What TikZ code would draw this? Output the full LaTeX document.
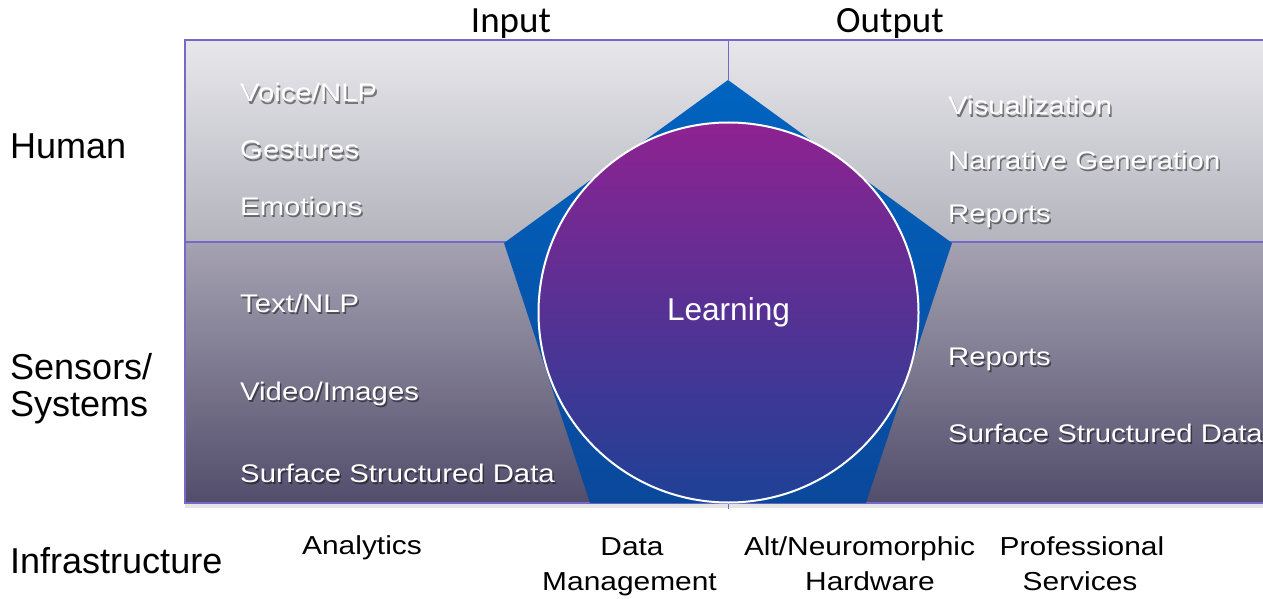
\documentclass[tikz,border=0pt]{standalone}
\usepackage{fontspec}
\setmainfont{Liberation Sans}
\newfontfamily\calib{Carlito}
\newfontfamily\widefont[FakeStretch=1.15]{Liberation Sans}
\definecolor{pline}{RGB}{118,104,200}
\definecolor{ptop}{RGB}{231,231,235}
\definecolor{pmid}{RGB}{180,180,190}
\definecolor{pmidb}{RGB}{165,162,178}
\definecolor{pbot}{RGB}{82,77,107}
\definecolor{penttop}{RGB}{0,100,192}
\definecolor{pentbot}{RGB}{10,72,155}
\definecolor{ctop}{RGB}{142,34,146}
\definecolor{cmid}{RGB}{85,50,150}
\definecolor{cbot}{RGB}{30,65,150}
\tikzset{
  paneltxt/.style={font=\widefont\fontsize{25.5}{30}\selectfont, text=white, anchor=base west, inner sep=0pt},
  panelshd/.style={paneltxt, text=black, text opacity=0.45},
  sidelab/.style={font=\fontsize{36}{43}\selectfont, anchor=base west, inner sep=0pt},
  headlab/.style={font=\calib\fontsize{37}{44}\selectfont, anchor=base, inner sep=0pt},
  infralab/.style={font=\widefont\fontsize{26}{31}\selectfont, anchor=base, inner sep=0pt},
  border/.style={draw=pline, line width=1.3pt},
}
\newcommand\ptxt[4]{%
  \node[panelshd] (#1s) at (#2+1.5,#3+2.5) {#4};
  \node[paneltxt] (#1) at (#2,#3) {#4};}
\begin{document}
\begin{tikzpicture}[x=1pt,y=-1pt]
\useasboundingbox (0,0) rectangle (1263,599);
% panels
\shade[top color=ptop, bottom color=pmid] (185,40) rectangle (1263,242);
\shade[top color=pmidb, bottom color=pbot] (185,242) rectangle (1263,503);
\fill[black, opacity=0.10] (185,504) rectangle (1263,508);
\coordinate (tl) at (185,40);
\coordinate (tr) at (1263,40);
\coordinate (bl) at (185,503);
\coordinate (br) at (1263,503);
\coordinate (ml) at (185,242);
\coordinate (mr) at (1263,242);
\coordinate (vtop) at (728,40);
\coordinate (vbot) at (728,509);
\coordinate (apex) at (728,80);
\draw[border] (tr) -- (tl) -- (bl) -- (br);
\draw[border] (ml) -- (mr);
\draw[border, line width=1pt] (vtop) -- (apex);
\draw[border, line width=1pt] (728,503) -- (vbot);
% pentagon
\shade[top color=penttop, bottom color=pentbot]
  (apex) -- (952,243) -- (866,503) -- (590,503) -- (504,243) -- cycle;
% circle
\node[circle, draw=white, line width=2pt, minimum size=380pt, inner sep=0pt,
      top color=ctop, middle color=cmid, bottom color=cbot,
      text=white, font=\fontsize{31.6}{38}\selectfont] (learn) at (728.5,312.5) {Learning};
% headings
\node[headlab] (input) at (511,33) {Input};
\node[headlab] (output) at (890,33) {Output};
% side labels
\node[sidelab] (human) at (10,158) {Human};
\node[sidelab] (sens) at (10,379) {Sensors/};
\node[sidelab] (syst) at (10,416) {Systems};
\node[sidelab] (infra) at (10,573) {Infrastructure};
% panel texts left
\ptxt{vnlp}{240}{102}{Voice/NLP}
\ptxt{gest}{240}{158.5}{Gestures}
\ptxt{emo}{240}{215}{Emotions}
\ptxt{tnlp}{240}{312}{Text/NLP}
\ptxt{vid}{240}{400}{Video/Images}
\ptxt{ssdl}{240}{482}{Surface Structured Data}
% panel texts right
\ptxt{vis}{948}{115}{Visualization}
\ptxt{narr}{948}{169}{Narrative Generation}
\ptxt{repa}{948}{222}{Reports}
\ptxt{repb}{948}{365}{Reports}
\ptxt{ssdr}{948}{442}{Surface Structured Data}
% infrastructure labels
\node[infralab] (anal) at (362,554) {Analytics};
\node[infralab] (data) at (632,555) {Data};
\node[infralab] (mgmt) at (629.5,590) {Management};
\node[infralab] (alt) at (859.5,555) {Alt/Neuromorphic};
\node[infralab] (hw) at (870,590) {Hardware};
\node[infralab] (prof) at (1082,555) {Professional};
\node[infralab] (serv) at (1080,590) {Services};
\end{tikzpicture}
\end{document}
